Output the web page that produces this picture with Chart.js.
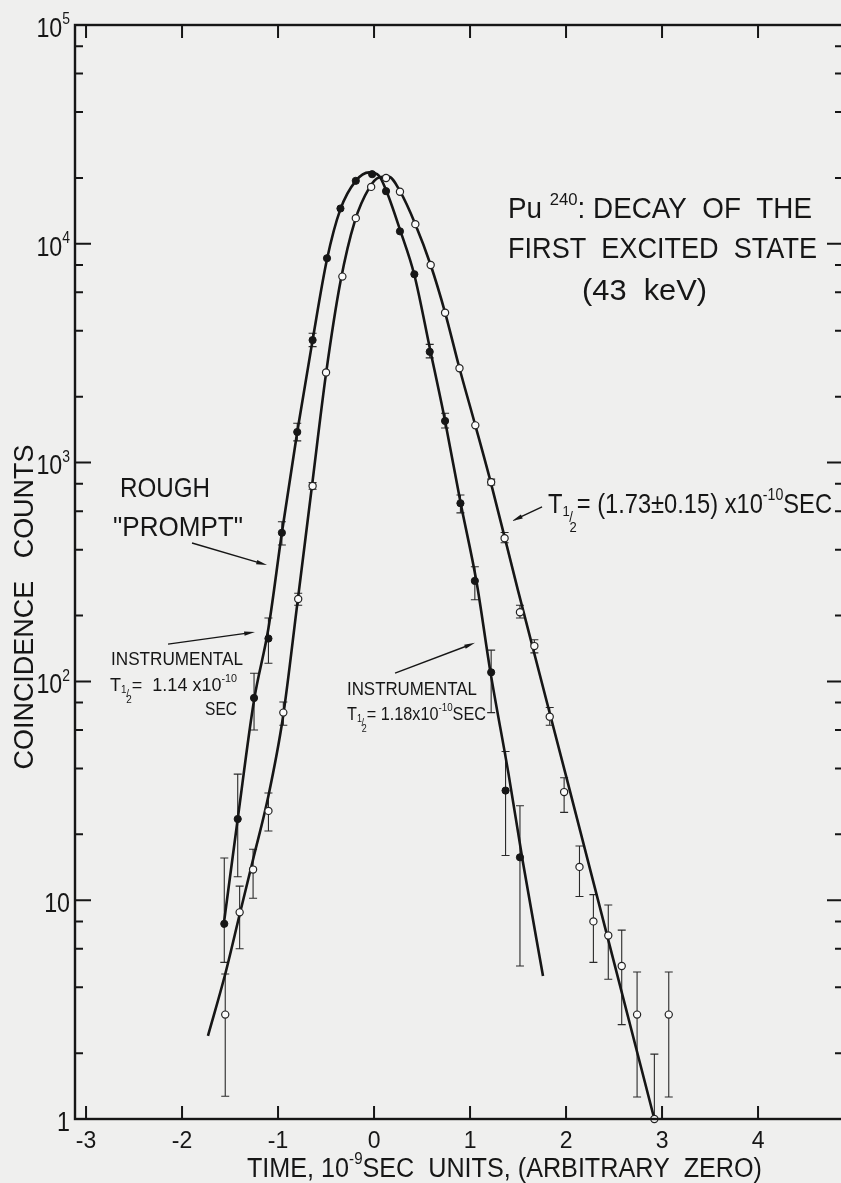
<!DOCTYPE html>
<html>
<head>
<meta charset="utf-8">
<title>Pu-240 first excited state decay</title>
<script src="https://cdn.jsdelivr.net/npm/chart.js@4.4.1/dist/chart.umd.min.js"></script>
<style>
html, body { margin: 0; padding: 0; background: #efefee; overflow: hidden; }
#wrap { position: absolute; left: 0; top: 0; width: 850px; height: 1183px; }
</style>
</head>
<body>
<div id="wrap"><canvas id="decay"></canvas></div>
<script>
// axes
const timeTicks = [-3, -2, -1, 0, 1, 2, 3, 4]
const countDecades = [1, 10, 100, 1000, 10000, 100000]
const minorSteps = [2, 4, 6, 8]

// rough "prompt" curve (filled circles), time in 1e-9 s
const promptT = [-1.56, -1.42, -1.25, -1.10, -0.96, -0.80, -0.64, -0.49, -0.35, -0.19, -0.02, 0.125, 0.27, 0.42, 0.58, 0.74, 0.90, 1.05, 1.22, 1.37, 1.52]
const promptCounts = [7.8, 23.5, 84, 157, 478, 1380, 3630, 8590, 14500, 19400, 20800, 17400, 11400, 7260, 3210, 1550, 652, 288, 110, 31.7, 15.7]
const promptLow = [5.2, 12.8, 60, 121, 420, 1257, 3390, null, null, null, null, null, null, null, 3010, 1440, 589, 236, 72, 16, 5.0]
const promptHigh = [15.6, 37.7, 109, 195, 537, 1513, 3900, null, null, null, null, null, null, null, 3470, 1680, 711, 334, 139, 47.8, 27]

// delayed 43 keV coincidences (open circles)
const decayT = [-1.55, -1.40, -1.26, -1.10, -0.945, -0.79, -0.64, -0.50, -0.33, -0.19, -0.03, 0.125, 0.27, 0.43, 0.59, 0.74, 0.89, 1.055, 1.22, 1.36, 1.52, 1.67, 1.83, 1.98, 2.14, 2.285, 2.44, 2.58, 2.74, 2.92, 3.07]
const decayCounts = [3.0, 8.8, 13.8, 25.6, 72, 238, 782, 2580, 7080, 13100, 18200, 20000, 17300, 12300, 8000, 4840, 2700, 1480, 813, 451, 207, 145, 69, 31.2, 14.2, 8.0, 6.9, 5.0, 3.0, 1.0, 3.0]
const decayLow = [1.27, 6.0, 10.2, 20.7, 63, 223, 755, null, null, null, null, null, null, null, null, null, null, null, 790, 430, 195, 135, 63, 25.2, 10.4, 5.2, 4.35, 2.7, 1.26, 1.0, 1.26]
const decayHigh = [4.6, 11.6, 17.1, 30.9, 80.5, 253, 810, null, null, null, null, null, null, null, null, null, null, null, 840, 479, 223, 155, 76, 36.3, 17.7, 10.6, 9.5, 7.3, 4.7, 1.98, 4.7]

// hand-drawn curves through each set
const promptFitT = [-1.57, -1.42, -1.25, -1.10, -0.96, -0.80, -0.64, -0.49, -0.35, -0.19, -0.05, 0.05, 0.125, 0.27, 0.42, 0.58, 0.74, 0.90, 1.07, 1.21, 1.40, 1.55, 1.76]
const promptFitCounts = [7.5, 23.5, 82, 175, 478, 1380, 3630, 8500, 14400, 19400, 21200, 20500, 17600, 11600, 7200, 3350, 1550, 660, 281, 112, 38, 15, 4.5]
const decayFitT = [-1.73, -1.55, -1.40, -1.25, -1.10, -0.95, -0.80, -0.65, -0.50, -0.35, -0.20, -0.05, 0.05, 0.15, 0.27, 0.43, 0.59, 0.74, 0.89, 1.055, 1.22, 1.50, 2.00, 2.50, 2.92]
const decayFitCounts = [2.4, 4.6, 8.6, 16, 30, 68, 225, 760, 2550, 6700, 12700, 18000, 20100, 20300, 17400, 12300, 8000, 4850, 2700, 1480, 800, 260, 37, 5.2, 1.0]

// arrows, [t0, counts0, t1, counts1] with the head at the second end
const arrows = [
	[-1.896, 429, -1.115, 340],
	[-2.146, 148, -1.240, 168],
	[0.219, 109, 1.052, 150],
	[1.750, 627, 1.4375, 541]
]

const INK = '#161616'
const FACE = '"Liberation Sans", "DejaVu Sans", sans-serif'

const pairs = (xs, ys) => xs.map((x, i) => ({x: x, y: ys[i]}))

// half-life symbol: T with a small stacked 1/2
const half = [
	{t: 'T', s: 1},
	{t: '1', s: 0.55, dy: 0.12},
	{t: '/', s: 0.55, dy: 0.32, dx: -0.02},
	{t: '2', s: 0.55, dy: 0.66, dx: -0.14}
]
const sup = (t) => ({t: t, s: 0.6, dy: -0.46})

const lettering = [
	{x: 508, y: 208, size: 29, width: 304, runs: ['Pu ', sup('240'), ': DECAY  OF  THE']},
	{x: 508, y: 248, size: 29, width: 309, runs: ['FIRST  EXCITED  STATE']},
	{x: 582, y: 290, size: 29, width: 125, runs: ['(43  keV)']},
	{x: 120, y: 487, size: 28, width: 90, runs: ['ROUGH']},
	{x: 113, y: 526, size: 28, width: 130, runs: ['"PROMPT"']},
	{x: 111, y: 658, size: 18.5, width: 132, runs: ['INSTRUMENTAL']},
	{x: 110, y: 684, size: 19, width: 127, runs: [...half, '=  1.14 x10', sup('-10')]},
	{x: 205, y: 708, size: 18.5, width: 32, runs: ['SEC']},
	{x: 347, y: 688, size: 18.5, width: 130, runs: ['INSTRUMENTAL']},
	{x: 347, y: 713, size: 18.5, width: 139, runs: [...half, '= 1.18x10', sup('-10'), 'SEC']},
	{x: 548, y: 503, size: 28, width: 284, runs: [...half, '= (1.73', '±', '0.15) x10', sup('-10'), 'SEC']},
	{x: 23, y: 607, size: 28, width: 325, angle: -Math.PI / 2, align: 'center', runs: ['COINCIDENCE   COUNTS']},
	{x: 247, y: 1167, size: 27, width: 515, runs: ['TIME, 10', sup('-9'), 'SEC  UNITS, (ARBITRARY  ZERO)']}
]

function measureRuns(ctx, runs, size) {
	let w = 0
	runs.forEach(r => {
		ctx.font = `${size * r.s}px ${FACE}`
		w += ctx.measureText(r.t).width + (r.dx || 0) * size
	})
	return w
}

// the lettering is a narrow drafting face, so squeeze a sans face sideways
function drawLettering(ctx, item) {
	const runs = item.runs.map(r => typeof r === 'string' ? {t: r, s: 1} : r)
	const size = item.size
	const w = measureRuns(ctx, runs, size)
	const sx = item.width ? item.width / w : (item.squeeze || 0.86)
	ctx.save()
	ctx.translate(item.x, item.y)
	if (item.angle) ctx.rotate(item.angle)
	ctx.scale(sx, 1)
	ctx.fillStyle = INK
	ctx.textAlign = 'left'
	ctx.textBaseline = 'alphabetic'
	let cx = item.align === 'center' ? -w / 2 : item.align === 'right' ? -w : 0
	const base = 0.36 * size
	runs.forEach(r => {
		ctx.font = `${size * r.s}px ${FACE}`
		cx += (r.dx || 0) * size
		ctx.fillText(r.t, cx, base + (r.dy || 0) * size)
		cx += ctx.measureText(r.t).width
	})
	ctx.restore()
}

const errorBars = {
	id: 'errorBars',
	beforeDatasetsDraw(chart) {
		const {ctx, scales: {x, y}} = chart
		ctx.save()
		ctx.strokeStyle = '#2a2a2a'
		ctx.lineWidth = 1.1
		const sets = [[promptT, promptLow, promptHigh], [decayT, decayLow, decayHigh]]
		sets.forEach(([ts, lo, hi]) => {
			ts.forEach((t, i) => {
				if (lo[i] == null) return
				const px = x.getPixelForValue(t)
				const top = y.getPixelForValue(hi[i])
				const bot = y.getPixelForValue(lo[i])
				ctx.beginPath()
				ctx.moveTo(px, top); ctx.lineTo(px, bot)
				ctx.moveTo(px - 4, top); ctx.lineTo(px + 4, top)
				ctx.moveTo(px - 4, bot); ctx.lineTo(px + 4, bot)
				ctx.stroke()
			})
		})
		ctx.restore()
	}
}

// box with inward ticks on all four sides, plus the power-of-ten labels
const frame = {
	id: 'frame',
	afterDraw(chart) {
		const {ctx, chartArea: a, scales: {x, y}} = chart
		ctx.save()
		ctx.strokeStyle = INK
		ctx.lineWidth = 2.4
		ctx.strokeRect(a.left, a.top, a.right - a.left, a.bottom - a.top)

		ctx.lineWidth = 2
		ctx.beginPath()
		timeTicks.forEach(t => {
			const px = x.getPixelForValue(t)
			ctx.moveTo(px, a.bottom); ctx.lineTo(px, a.bottom - 13)
			ctx.moveTo(px, a.top); ctx.lineTo(px, a.top + 13)
		})
		countDecades.forEach((d, k) => {
			const py = y.getPixelForValue(d)
			if (k > 0 && k < countDecades.length - 1) {
				ctx.moveTo(a.left, py); ctx.lineTo(a.left + 16, py)
				ctx.moveTo(a.right, py); ctx.lineTo(a.right - 16, py)
			}
			if (k < countDecades.length - 1) {
				minorSteps.forEach(m => {
					const pm = y.getPixelForValue(d * m)
					ctx.moveTo(a.left, pm); ctx.lineTo(a.left + 8, pm)
					ctx.moveTo(a.right, pm); ctx.lineTo(a.right - 8, pm)
				})
			}
		})
		ctx.stroke()
		ctx.restore()

		countDecades.forEach((d, k) => {
			const py = y.getPixelForValue(d)
			let runs = ['10', sup(String(k))]
			if (k === 0) runs = ['1']
			if (k === 1) runs = ['10']
			drawLettering(ctx, {x: a.left - 5, y: py + 2, size: 27, squeeze: 0.86, align: 'right', runs: runs})
		})

		ctx.save()
		ctx.strokeStyle = INK
		ctx.fillStyle = INK
		ctx.lineWidth = 1.4
		arrows.forEach(([t0, c0, t1, c1]) => {
			const x0 = x.getPixelForValue(t0), y0 = y.getPixelForValue(c0)
			const x1 = x.getPixelForValue(t1), y1 = y.getPixelForValue(c1)
			const ang = Math.atan2(y1 - y0, x1 - x0)
			ctx.beginPath()
			ctx.moveTo(x0, y0); ctx.lineTo(x1 - 6 * Math.cos(ang), y1 - 6 * Math.sin(ang))
			ctx.stroke()
			ctx.beginPath()
			ctx.moveTo(x1, y1)
			ctx.lineTo(x1 - 11 * Math.cos(ang - 0.2), y1 - 11 * Math.sin(ang - 0.2))
			ctx.lineTo(x1 - 11 * Math.cos(ang + 0.2), y1 - 11 * Math.sin(ang + 0.2))
			ctx.closePath()
			ctx.fill()
		})
		ctx.restore()

		lettering.forEach(item => drawLettering(ctx, item))
	}
}

const chart = new Chart('decay', {
	type: 'scatter',
	data: {
		datasets: [
			{
				label: 'prompt',
				data: pairs(promptT, promptCounts),
				pointRadius: 3.6,
				pointBackgroundColor: INK,
				pointBorderColor: INK,
				pointBorderWidth: 1,
				clip: false
			},
			{
				label: 'delayed',
				data: pairs(decayT, decayCounts),
				pointRadius: 3.6,
				pointBackgroundColor: '#fbfbfb',
				pointBorderColor: '#222',
				pointBorderWidth: 1.2,
				clip: false
			},
			{
				label: 'prompt curve',
				type: 'line',
				data: pairs(promptFitT, promptFitCounts),
				borderColor: INK,
				borderWidth: 2.6,
				pointRadius: 0,
				cubicInterpolationMode: 'monotone',
				fill: false
			},
			{
				label: 'delayed curve',
				type: 'line',
				data: pairs(decayFitT, decayFitCounts),
				borderColor: INK,
				borderWidth: 2.6,
				pointRadius: 0,
				cubicInterpolationMode: 'monotone',
				fill: false
			}
		]
	},
	options: {
		responsive: true,
		maintainAspectRatio: false,
		animation: false,
		events: [],
		layout: {padding: {top: 25, right: 7, left: 0, bottom: 0}},
		plugins: {legend: {display: false}, tooltip: {enabled: false}},
		scales: {
			x: {
				type: 'linear',
				min: -3.115,
				max: 4.885,
				grid: {display: false, drawTicks: false},
				border: {display: false},
				afterBuildTicks: (scale) => { scale.ticks = timeTicks.map(v => ({value: v})) },
				afterFit: (scale) => { scale.height = 64 },
				ticks: {
					color: INK,
					padding: 9,
					maxRotation: 0,
					font: {family: FACE, size: 23},
					callback: (v) => String(v)
				}
			},
			y: {
				type: 'logarithmic',
				min: 1,
				max: 100000,
				grid: {display: false, drawTicks: false},
				border: {display: false},
				ticks: {display: false},
				afterFit: (scale) => { scale.width = 75 }
			}
		}
	},
	plugins: [errorBars, frame]
})
</script>
</body>
</html>
